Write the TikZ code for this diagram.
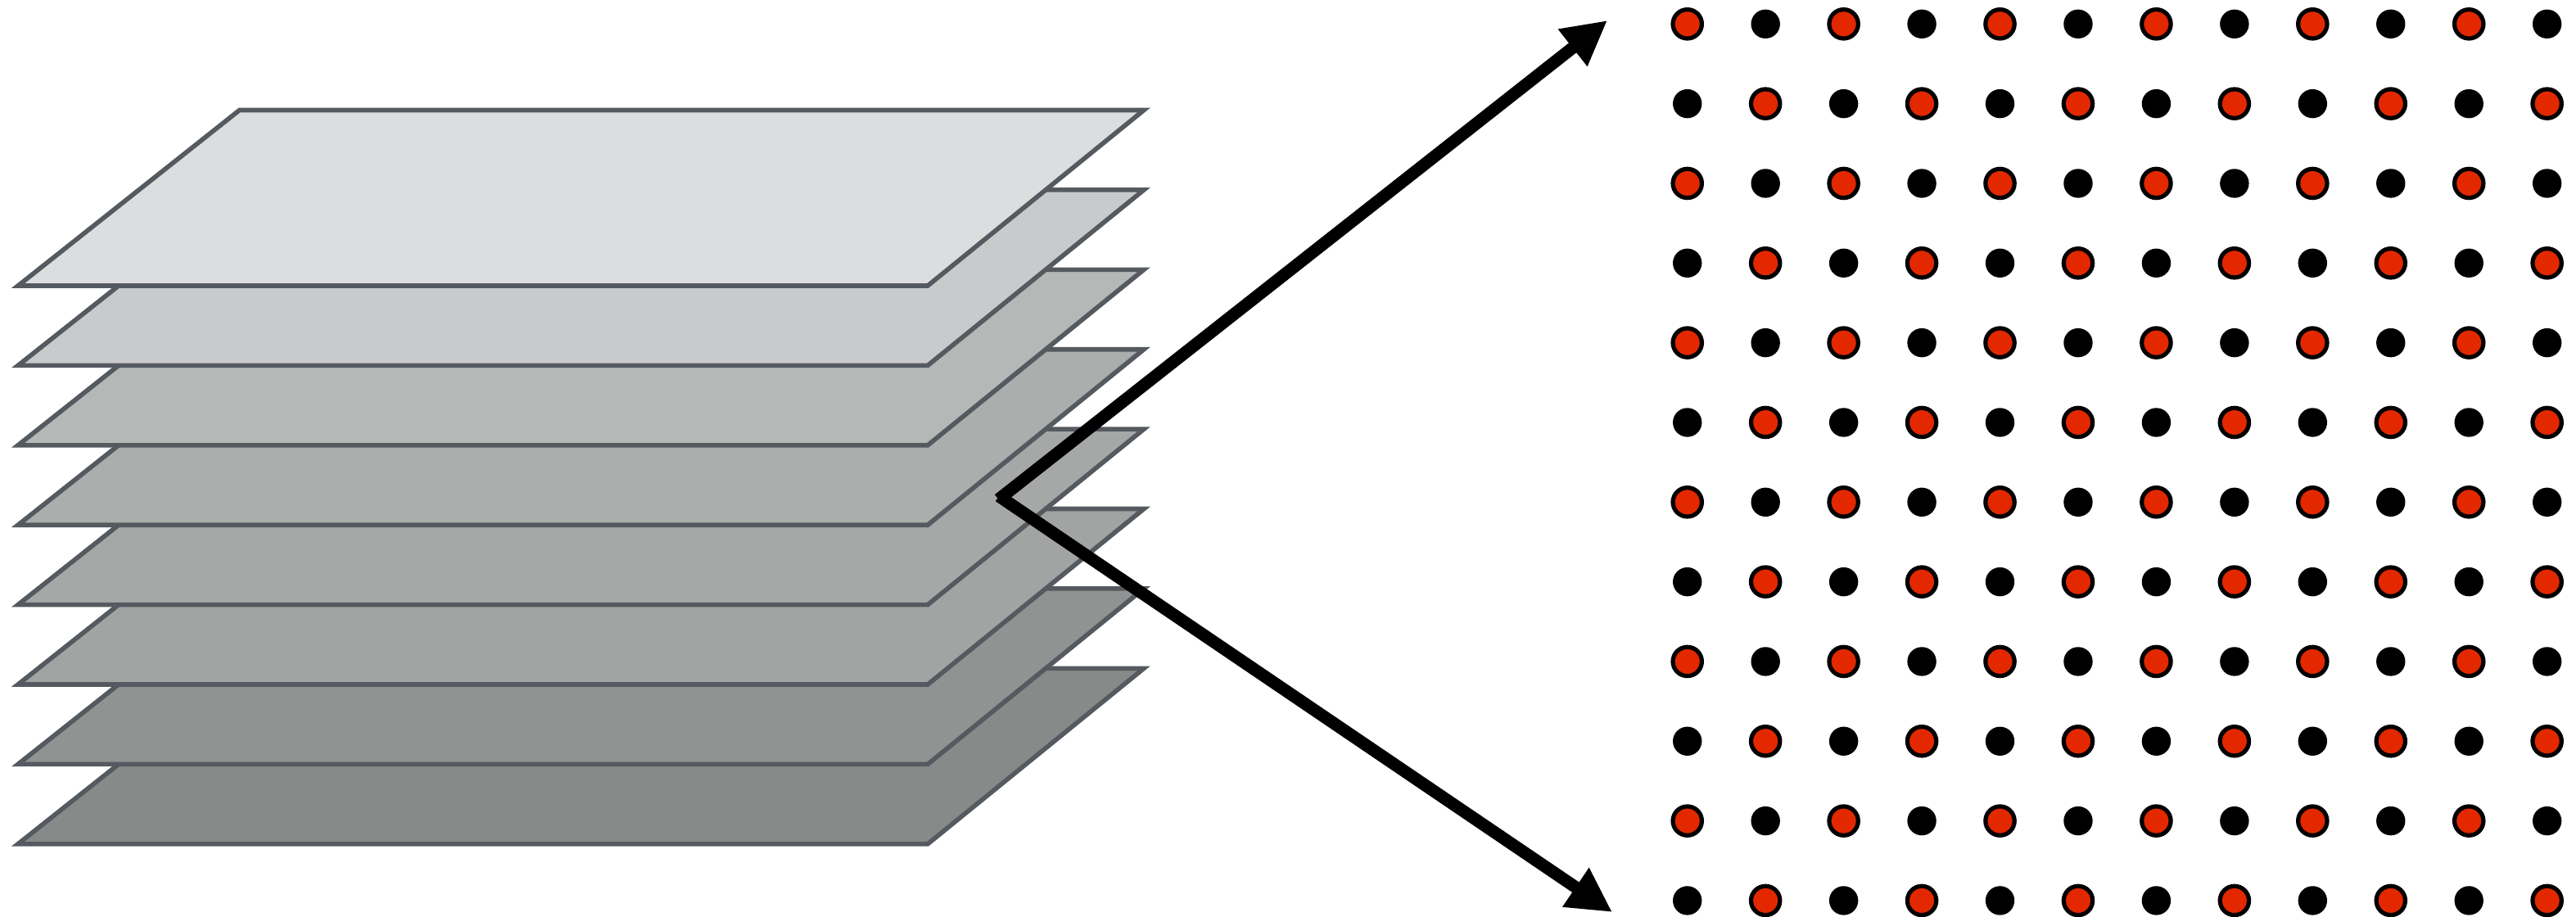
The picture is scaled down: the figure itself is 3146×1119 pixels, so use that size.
\documentclass[tikz,border=0pt]{standalone}
\usetikzlibrary{arrows.meta}
\definecolor{edgegrey}{HTML}{555A60}
\definecolor{dotred}{HTML}{E32800}
\definecolor{la}{HTML}{DCDDDF}
\definecolor{lb}{HTML}{C9CACC}
\definecolor{lc}{HTML}{B4B9B7}
\definecolor{ld}{HTML}{AAAEAC}
\definecolor{le}{HTML}{A5A8A6}
\definecolor{lf}{HTML}{A2A4A3}
\definecolor{lg}{HTML}{919392}
\definecolor{lh}{HTML}{888A89}
\tikzset{
  layerplane/.style={draw=edgegrey,line width=2.8pt,line join=miter},
  reddot/.style={draw=black,fill=dotred,line width=2.6pt},
  blackdot/.style={fill=black},
  bigarrow/.style={draw=black,line width=7.5pt,-{Triangle[length=27pt,width=27pt]}}
}
\begin{document}
\begin{tikzpicture}[x=0.5pt,y=-0.5pt]
\useasboundingbox (0,0) rectangle (3146,1119);
\fill[white] (0,0) rectangle (3146,1119);
% layers, back to front
\foreach \i/\c in {7/lh,6/lg,5/lf,4/le,3/ld,2/lc,1/lb,0/la}{
  \pgfmathsetmacro{\dy}{97.4*\i}
  \path[layerplane,fill=\c] (292.5,134.5+\dy) -- (1397,134.5+\dy) -- (1133,349+\dy) -- (22,349+\dy) -- cycle;
}
% dots
\foreach \r in {0,...,11}{
  \foreach \k in {0,...,11}{
    \pgfmathsetmacro{\px}{2060.7+95.45*\k}
    \pgfmathsetmacro{\py}{29.3+97.33*\r}
    \pgfmathtruncatemacro{\dotparity}{mod(\r+\k,2)}
    \ifnum\dotparity=0
      \path[reddot] (\px,\py) circle[radius=17.7];
    \else
      \path[blackdot] (\px,\py) circle[radius=17.7];
    \fi
  }
}
% arrows
\coordinate (upstart) at (1219.5,610);
\coordinate (uptip) at (1963,25);
\coordinate (lowstart) at (1220,606);
\coordinate (lowtip) at (1969,1114);
\draw[bigarrow] (upstart) -- (uptip);
\draw[bigarrow] (lowstart) -- (lowtip);
\end{tikzpicture}
\end{document}
